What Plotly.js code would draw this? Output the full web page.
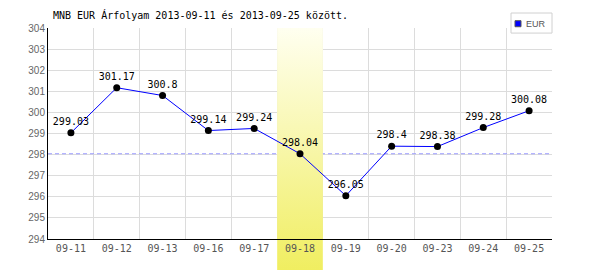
<!DOCTYPE html>
<html><head><meta charset="utf-8">
<script src="https://cdn.plot.ly/plotly-3.0.1.min.js"></script>
<style>html,body{margin:0;padding:0;background:#fff}</style>
</head><body>
<div id="chart" style="width:600px;height:270px"></div>
<script>
// ---- data ----
const dates = ['09-11','09-12','09-13','09-16','09-17','09-18','09-19','09-20','09-23','09-24','09-25'];
const rates = [299.03, 301.17, 300.8, 299.14, 299.24, 298.04, 296.05, 298.4, 298.38, 299.28, 300.08];
const highlightDate = '09-18';
const seriesName = 'EUR';
const titleText = 'MNB EUR Árfolyam 2013-09-11 és 2013-09-25 között.';
const yTickVals = [294, 295, 296, 297, 298, 299, 300, 301, 302, 303, 304];

// ---- derived ----
const idx = dates.map((d, i) => i);
const hi = dates.indexOf(highlightDate);
const yMin = yTickVals[0], yMax = yTickVals[yTickVals.length - 1];
const boundaries = idx.slice(1).map(i => i - 0.5).concat([dates.length - 0.5]);
const mono = 'DejaVu Sans Mono, monospace';

const svg = '<svg xmlns="http://www.w3.org/2000/svg" width="10" height="100" viewBox="0 0 10 100" preserveAspectRatio="none">' +
  '<defs><linearGradient id="g" x1="0" y1="0" x2="0" y2="1">' +
  '<stop offset="0" stop-color="#fffff0"/><stop offset="1" stop-color="#f0ee60"/>' +
  '</linearGradient></defs><rect width="10" height="100" fill="url(#g)"/></svg>';
const gradSrc = 'data:image/svg+xml;charset=utf-8,' + encodeURIComponent(svg);

const traces = [
  { // reference level (highlighted day's rate)
    x: [-0.5, dates.length - 0.5], y: [rates[hi], rates[hi]],
    mode: 'lines', line: { color: '#9a9aff', width: 1, dash: '4px,3px' },
    hoverinfo: 'skip', showlegend: false
  },
  { // highlight column
    x: [hi - 0.5, hi + 0.5, hi + 0.5, hi - 0.5], y: [yMin, yMin, yMax, yMax],
    mode: 'none', fill: 'toself',
    fillgradient: { type: 'vertical', colorscale: [[0, '#f2f073'], [1, '#fffff0']] },
    hoverinfo: 'skip', showlegend: false
  },
  {
    x: idx, y: rates, name: seriesName,
    mode: 'lines+markers+text',
    line: { color: '#0000ff', width: 1 },
    marker: { color: '#000', size: 7 },
    text: rates.map(String), textposition: 'top center',
    textfont: { family: mono, size: 10, color: '#000' },
    cliponaxis: false, showlegend: false
  }
];

const layout = {
  width: 600, height: 270,
  margin: { l: 48, r: 48, t: 28, b: 31, pad: 0 },
  paper_bgcolor: '#fff', plot_bgcolor: '#fff',
  showlegend: false,
  title: {
    text: titleText, xref: 'container', x: 53 / 600, xanchor: 'left',
    yref: 'container', y: 1 - 15 / 270, yanchor: 'middle',
    font: { family: mono, size: 10, color: '#000' }
  },
  xaxis: {
    range: [-0.5, dates.length - 0.5], tickmode: 'array', tickvals: idx, ticktext: dates,
    showgrid: false, zeroline: false, showline: true, linecolor: '#000', linewidth: 1,
    ticks: '', tickfont: { family: mono, size: 10, color: '#555' },
    minor: { tickmode: 'array', tickvals: boundaries, showgrid: true, gridcolor: '#dcdcdc', gridwidth: 1, ticks: '' },
    fixedrange: true
  },
  yaxis: {
    range: [yMin, yMax], tickmode: 'array', tickvals: yTickVals,
    showgrid: true, gridcolor: '#dcdcdc', gridwidth: 1, zeroline: false,
    showline: true, linecolor: '#000', linewidth: 1, ticks: '',
    tickfont: { family: 'Liberation Sans, Arial, sans-serif', size: 10, color: '#666' },
    fixedrange: true
  },
  images: [{
    source: gradSrc, xref: 'x', yref: 'paper', x: hi - 0.5, y: 1,
    sizex: 1, sizey: 1.15, xanchor: 'left', yanchor: 'top', sizing: 'stretch', layer: 'below'
  }],
  shapes: [
    { type: 'rect', xref: 'paper', yref: 'paper', x0: 0.9187, x1: 1.0, y0: 0.976, y1: 1.071,
      fillcolor: '#fff', line: { color: '#d0d0d0', width: 1 }, layer: 'above' },
    { type: 'rect', xref: 'paper', yref: 'paper', x0: 0.9266, x1: 0.9385, y0: 1.006, y1: 1.0346,
      fillcolor: '#0000ff', line: { color: '#555', width: 1 }, layer: 'above' }
  ],
  annotations: [
    { text: seriesName, xref: 'paper', yref: 'paper', x: 0.9444, y: 1.019,
      xanchor: 'left', yanchor: 'middle', showarrow: false,
      font: { family: 'Liberation Sans, Arial, sans-serif', size: 9, color: '#555' } }
  ]
};

Plotly.newPlot('chart', traces, layout, { staticPlot: true, displayModeBar: false });
</script>
</body></html>
